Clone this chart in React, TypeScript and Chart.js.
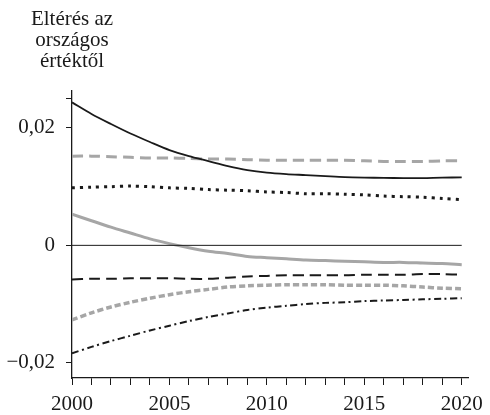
import React, { useEffect, useRef } from "react";
import { Chart, registerables } from "chart.js";

Chart.register(...registerables);

const years = [2000, 2001, 2002, 2003, 2004, 2005, 2006, 2007, 2008, 2009, 2010, 2011, 2012, 2013, 2014, 2015, 2016, 2017, 2018, 2019, 2020];

const blackSolid = [0.02436, 0.02239, 0.02068, 0.01906, 0.01761, 0.01624, 0.01521, 0.01436, 0.0135, 0.01282, 0.01239, 0.01214, 0.01197, 0.01179, 0.01162, 0.01154, 0.0115, 0.01145, 0.01145, 0.01154, 0.01157];
const grayDashed = [0.0152, 0.0152, 0.0151, 0.015, 0.0149, 0.0149, 0.0148, 0.0147, 0.0147, 0.0146, 0.0145, 0.0145, 0.0145, 0.0145, 0.0145, 0.0144, 0.0143, 0.0143, 0.0143, 0.0144, 0.0144];
const blackDotted = [0.0098, 0.0099, 0.01, 0.0101, 0.01, 0.0098, 0.0097, 0.0095, 0.0094, 0.0093, 0.0091, 0.009, 0.0088, 0.0088, 0.0087, 0.0086, 0.0084, 0.0083, 0.0082, 0.008, 0.0078];
const graySolid = [0.0053, 0.0042, 0.0031, 0.0021, 0.0011, 0.0003, -0.0004, -0.001, -0.0014, -0.0019, -0.0021, -0.0023, -0.0025, -0.0026, -0.0027, -0.0028, -0.0029, -0.0029, -0.003, -0.0031, -0.0033];
const blackDashed = [-0.0058, -0.0057, -0.0057, -0.0056, -0.0056, -0.0056, -0.0057, -0.0057, -0.0055, -0.0053, -0.0052, -0.0051, -0.0051, -0.0051, -0.0051, -0.005, -0.005, -0.005, -0.0049, -0.0049, -0.005];
const grayShortDashed = [-0.0127, -0.0115, -0.0105, -0.0097, -0.009, -0.0084, -0.0079, -0.0075, -0.0071, -0.0069, -0.0068, -0.0067, -0.0067, -0.0067, -0.0068, -0.0068, -0.0068, -0.0069, -0.0071, -0.0073, -0.0074];
const blackDashDot = [-0.0184, -0.0173, -0.0163, -0.0154, -0.0145, -0.0137, -0.0129, -0.0122, -0.0116, -0.011, -0.0106, -0.0103, -0.01, -0.0098, -0.0097, -0.0095, -0.0094, -0.0093, -0.0092, -0.0091, -0.009];
const zeroLine = [0, 0];
const zeroLineYears = [2000, 2020];

const xTickValues = years;
const yTickValues = [-0.02, 0, 0.02, 0.025];
const yTickLabels = ["\u22120,02", "0", "0,02", ""];
const titleLines = ["Eltérés az", "országos", "értéktől"];

const FONT = "'Liberation Serif', 'DejaVu Serif', serif";
const BLACK = "#1a1a1a";
const GRAY = "#a6a6a6";

const toPts = (xs: number[], ys: number[]) => xs.map((x, i) => ({ x, y: ys[i] }));

const titlePlugin = {
  id: "axisTitle",
  afterDraw(chart: any) {
    const ctx = chart.ctx;
    const x = chart.chartArea.left;
    ctx.save();
    ctx.fillStyle = BLACK;
    ctx.font = `21px ${FONT}`;
    ctx.textAlign = "center";
    ctx.textBaseline = "alphabetic";
    titleLines.forEach((t, i) => ctx.fillText(t, x, 25 + i * 21));
    ctx.restore();
  },
};

export default function App() {
  const ref = useRef<HTMLCanvasElement>(null);
  useEffect(() => {
    if (!ref.current) return;
    const line = (data: number[], color: string, width: number, dash: number[]) => ({
      data: toPts(years, data),
      borderColor: color,
      borderWidth: width,
      borderDash: dash,
      pointRadius: 0,
      tension: 0.3,
      fill: false,
    });
    const chart = new Chart(ref.current, {
      type: "line",
      data: {
        datasets: [
          { data: toPts(zeroLineYears, zeroLine), borderColor: BLACK, borderWidth: 1, pointRadius: 0, fill: false },
          line(blackSolid, BLACK, 1.8, []),
          line(grayDashed, GRAY, 3, [11, 6]),
          line(blackDotted, BLACK, 3, [3, 5]),
          line(graySolid, GRAY, 3, []),
          line(blackDashed, BLACK, 2, [11, 6]),
          line(grayShortDashed, GRAY, 3.5, [6, 3]),
          line(blackDashDot, BLACK, 2, [7, 3.5, 2, 3.5]),
        ],
      },
      options: {
        responsive: false,
        animation: false,
        layout: { padding: { left: 0, top: 91, right: 17, bottom: 0 } },
        plugins: { legend: { display: false }, tooltip: { enabled: false }, title: { display: false } },
        scales: {
          x: {
            type: "linear",
            min: 2000,
            max: 2020.34,
            afterBuildTicks: (s: any) => {
              s.ticks = xTickValues.map((v) => ({ value: v }));
            },
            afterFit: (s: any) => {
              s.height = 37;
            },
            grid: { drawOnChartArea: false, drawTicks: true, tickLength: 7, color: BLACK, lineWidth: 1 },
            border: { display: true, color: BLACK, width: 1.3 },
            ticks: {
              autoSkip: false,
              maxRotation: 0,
              padding: 7,
              color: BLACK,
              font: { family: FONT, size: 21 },
              callback: (v: any) => (Number(v) % 5 === 0 ? String(v) : ""),
            },
          },
          y: {
            type: "linear",
            min: -0.0226,
            max: 0.0263,
            afterBuildTicks: (s: any) => {
              s.ticks = yTickValues.map((v) => ({ value: v }));
            },
            afterFit: (s: any) => {
              s.width = 72;
            },
            grid: { drawOnChartArea: false, drawTicks: true, tickLength: 6, color: BLACK, lineWidth: 1 },
            border: { display: true, color: BLACK, width: 1.3 },
            ticks: {
              autoSkip: false,
              padding: 11,
              color: BLACK,
              font: { family: FONT, size: 21 },
              callback: (v: any) => {
                const i = yTickValues.findIndex((t) => Math.abs(t - Number(v)) < 1e-9);
                return i >= 0 ? yTickLabels[i] : "";
              },
            },
          },
        },
      },
      plugins: [titlePlugin],
    });
    return () => chart.destroy();
  }, []);
  return (
    <div style={{ position: "absolute", left: 0, top: 0, width: 490, height: 415, background: "#fff" }}>
      <canvas ref={ref} width={490} height={415} style={{ display: "block" }} />
    </div>
  );
}
